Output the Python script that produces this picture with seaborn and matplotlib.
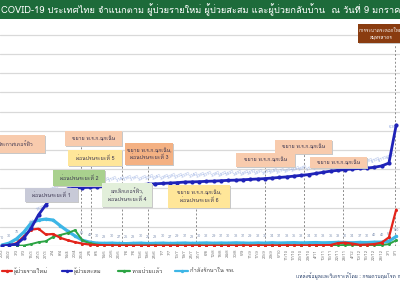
import matplotlib
matplotlib.use("Agg")
import matplotlib.pyplot as plt
import seaborn as sns
import numpy as np
from matplotlib.patches import Rectangle
from matplotlib.lines import Line2D

# ---------------- data ----------------
dates = ["20/2", "26/2", "3/3", "9/3", "15/3", "21/3", "27/3", "2/4", "8/4", "14/4",
         "20/4", "26/4", "2/5", "8/5", "14/5", "20/5", "26/5", "1/6", "7/6", "13/6",
         "19/6", "25/6", "1/7", "7/7", "13/7", "19/7", "25/7", "31/7", "6/8", "12/8",
         "18/8", "24/8", "30/8", "5/9", "11/9", "17/9", "23/9", "29/9", "5/10", "11/10",
         "17/10", "23/10", "29/10", "4/11", "10/11", "16/11", "22/11", "28/11", "4/12", "10/12",
         "16/12", "22/12", "28/12", "3/1", "9/1"]

new_cases = [2, 5, 30, 100, 170, 180, 120, 125, 85, 60,
             40, 25, 15, 10, 8, 6, 5, 5, 4, 5,
             4, 5, 4, 5, 4, 3, 5, 4, 3, 4,
             3, 5, 4, 6, 5, 7, 5, 6, 5, 8,
             6, 7, 6, 9, 8, 10, 30, 35, 25, 12,
             15, 20, 35, 90, 380]

cumulative = [0, 40, 100, 420, 940, 1620, 2140, 2660, 2870, 2970,
              3020, 3040, 3060, 3080, 3100, 3120, 3140, 3160, 3180, 3200,
              3220, 3240, 3260, 3280, 3300, 3330, 3340, 3350, 3370, 3380,
              3400, 3420, 3430, 3450, 3470, 3490, 3510, 3540, 3570, 3600,
              3640, 3680, 3720, 3780, 3840, 3900, 3940, 3980, 4010, 4040,
              4060, 4100, 4170, 4320, 6300]

recovered = [0, 0, 2, 5, 20, 40, 50, 95, 115, 135,
             165, 60, 30, 15, 10, 8, 6, 6, 5, 5,
             5, 6, 5, 5, 6, 5, 5, 6, 5, 5,
             6, 5, 5, 6, 5, 6, 5, 5, 6, 5,
             6, 5, 6, 5, 6, 6, 8, 10, 12, 10,
             8, 10, 10, 20, 60]

in_hospital = [10, 30, 75, 145, 240, 270, 280, 270, 210, 155,
               105, 60, 40, 30, 28, 30, 27, 25, 28, 30,
               26, 28, 30, 27, 29, 31, 28, 30, 32, 29,
               31, 30, 33, 31, 29, 32, 30, 34, 31, 33,
               35, 32, 34, 36, 33, 35, 38, 36, 34, 37,
               36, 40, 40, 50, 100]

series_labels = ["ผู้ป่วยรายใหม่", "ผู้ป่วยสะสม", "หายป่วยแล้ว", "กำลังรักษาใน รพ."]

title = "COVID-19 ประเทศไทย จำแนกตาม ผู้ป่วยรายใหม่ ผู้ป่วยสะสม และผู้ป่วยกลับบ้าน  ณ วันที่ 9 มกราคม 2564"

# annotations: text, box (x0, y0, x1, y1) in pixels, face colour
events = [
    ("ประกาศเคอร์ฟิว", (-14, 135, 45, 153), "#f8cbad"),
    ("ขยาย พ.ร.ก.ฉุกเฉิน", (65, 131, 122, 146), "#f8cbad"),
    ("ผ่อนปรนระยะที่ 5", (68, 150, 122, 166), "#ffe699"),
    ("ขยาย พ.ร.ก.ฉุกเฉิน,\nผ่อนปรนระยะที่ 3", (125, 143, 173, 165), "#f4b183"),
    ("ผ่อนปรนระยะที่ 2", (53, 170, 105, 186), "#a9d18e"),
    ("ผ่อนปรนระยะที่ 1", (25, 188, 78, 202), "#c8cad8"),
    ("ยกเลิกเคอร์ฟิว,\nผ่อนปรนระยะที่ 4", (102, 183, 152, 207), "#e2efda"),
    ("ขยาย พ.ร.ก.ฉุกเฉิน,\nผ่อนปรนระยะที่ 6", (168, 185, 230, 208), "#ffe699"),
    ("ขยาย พ.ร.ก.ฉุกเฉิน", (236, 153, 295, 167), "#f8cbad"),
    ("ขยาย พ.ร.ก.ฉุกเฉิน", (275, 140, 332, 154), "#f8cbad"),
    ("ขยาย พ.ร.ก.ฉุกเฉิน", (310, 157, 367, 168), "#f8cbad"),
]
# event marker lines: x pixel, top pixel
event_lines = [(81, 145), (91, 165), (122, 165), (148, 165), (196, 207),
               (265, 165), (304, 152), (343, 167), (395, 45)]

source = "แหล่งข้อมูลและวิเคราะห์โดย : กรมควบคุมโรค กระทรวงสาธารณสุข"

# ---------------- style ----------------
sns.set_theme(style="white")
FONT = ["Loma", "Noto Sans Thai", "DejaVu Sans"]
plt.rcParams["font.family"] = FONT

W, H = 400, 284
fig = plt.figure(figsize=(W / 100, H / 100), dpi=100)
fig.patch.set_facecolor("white")


def fx(px):
    return px / W


def fy(py):
    return 1 - py / H


# plot area: baseline at y=246 px, top at y=25 px
AX_TOP, AX_BOT = 25, 246
STEP_PX = 19.2
ax = fig.add_axes([0, fy(AX_BOT), 1, (AX_BOT - AX_TOP) / H])
ax2 = ax.twinx()

n = len(dates)
xs = np.arange(n)
X_PX0, X_STEP = 2.0, 7.3
ax.set_xlim(-X_PX0 / X_STEP, (W - X_PX0) / X_STEP)

top_steps = (AX_BOT - AX_TOP) / STEP_PX
ax.set_ylim(0, 200 * top_steps)
ax2.set_ylim(0, 1000 * top_steps)

ax.set_yticks(np.arange(0, 2201, 200))
ax.yaxis.grid(True, color="#d9d9d9", linewidth=0.9)
ax.xaxis.grid(False)
ax.set_yticklabels([])
ax2.set_yticks([])
for a in (ax, ax2):
    for s in a.spines.values():
        s.set_visible(False)
    a.set_facecolor("none")
ax.tick_params(axis="y", length=0)

ax.set_xticks(xs)
ax.set_xticklabels(dates, rotation=90, fontsize=3.2, color="#808080")
ax.tick_params(axis="x", length=0, pad=2)

# event lines
for px, top in event_lines:
    xd = (px - X_PX0) / X_STEP
    ax.axvline(xd, ymin=0, ymax=(AX_BOT - top) / (AX_BOT - AX_TOP),
               color="#8c8c8c", linestyle=(0, (2, 2)), linewidth=0.7, zorder=1)

RED, BLUE, GREEN, CYAN = "#e3241b", "#1f23b8", "#2ca444", "#3db6e6"

sns.lineplot(x=xs, y=in_hospital, ax=ax, color=CYAN, linewidth=2.3,
             marker="o", markersize=2.5, markeredgewidth=0, zorder=3)
sns.lineplot(x=xs, y=recovered, ax=ax, color=GREEN, linewidth=1.4,
             marker="o", markersize=2.2, markeredgewidth=0, zorder=4)
sns.lineplot(x=xs, y=new_cases, ax=ax, color=RED, linewidth=1.6,
             marker="o", markersize=2.2, markeredgewidth=0, zorder=5)
sns.lineplot(x=xs, y=cumulative, ax=ax2, color=BLUE, linewidth=2.0,
             marker="o", markersize=3.0, markeredgewidth=0, zorder=6)

# small value labels
for i in range(n):
    if i < 3 or i >= 11:
        ax.text(xs[i], in_hospital[i] + 50, str(in_hospital[i]), fontsize=2.8,
                color="#8a9ab8", ha="center", va="bottom", zorder=2)
for i in range(4, n - 1):
    ax2.text(xs[i] + 0.2, cumulative[i] + 180, f"{cumulative[i]:,}", fontsize=2.8,
             color="#8fa7e0", ha="center", va="bottom", rotation=25, zorder=2)
ax2.text(xs[n - 1] - 0.3, cumulative[n - 1] - 200, f"{cumulative[n - 1]:,}",
         fontsize=2.8, color="#8fa7e0", ha="center", va="bottom", zorder=2)

# title banner
fig.add_artist(Rectangle((0, fy(19)), 1, 19 / H, transform=fig.transFigure,
                         facecolor="#1d6b3a", edgecolor="none", zorder=5))
fig.text(fx(1), fy(9.5), title, color="white", fontsize=6.7, va="center",
         ha="left", zorder=6)

# event boxes


def box(text, rect, color, tcolor="#3b3550", fs=3.7, shadow=True):
    x0, y0, x1, y1 = rect
    if shadow:
        fig.add_artist(Rectangle((fx(x0 + 1.2), fy(y1 + 1.2)), (x1 - x0) / W,
                                 (y1 - y0) / H, transform=fig.transFigure,
                                 facecolor="#c8c8c8", edgecolor="none", zorder=8))
    fig.add_artist(Rectangle((fx(x0), fy(y1)), (x1 - x0) / W, (y1 - y0) / H,
                             transform=fig.transFigure, facecolor=color,
                             edgecolor="none", zorder=9))
    fig.text(fx((x0 + x1) / 2), fy((y0 + y1) / 2), text, fontsize=fs,
             color=tcolor, ha="center", va="center", zorder=10,
             linespacing=1.3)


for text, rect, color in events:
    box(text, rect, color)

box("การระบาดระลอกใหม่\nสมุทรสาคร", (358, 24, 404, 43), "#8a3c10",
    tcolor="white", fs=3.4)

# legend
leg_items = [(2, 12, RED, series_labels[0]), (62, 72, BLUE, series_labels[1]),
             (118, 130, GREEN, series_labels[2]), (175, 188, CYAN, series_labels[3])]
LY = 271
for x0, x1, c, lab in leg_items:
    fig.add_artist(Line2D([fx(x0), fx(x1)], [fy(LY), fy(LY)], transform=fig.transFigure,
                          color=c, linewidth=1.6, zorder=5))
    fig.add_artist(Line2D([fx((x0 + x1) / 2)], [fy(LY)], transform=fig.transFigure,
                          color=c, marker="o", markersize=2.4, markeredgewidth=0,
                          linestyle="none", zorder=6))
    fig.text(fx(x1 + 1.5), fy(LY), lab, fontsize=4.2, color="#404040",
             ha="left", va="center")

fig.text(fx(296), fy(276), source, fontsize=3.6, color="#1f3864",
         ha="left", va="center")

fig.savefig("out.png", dpi=100)
